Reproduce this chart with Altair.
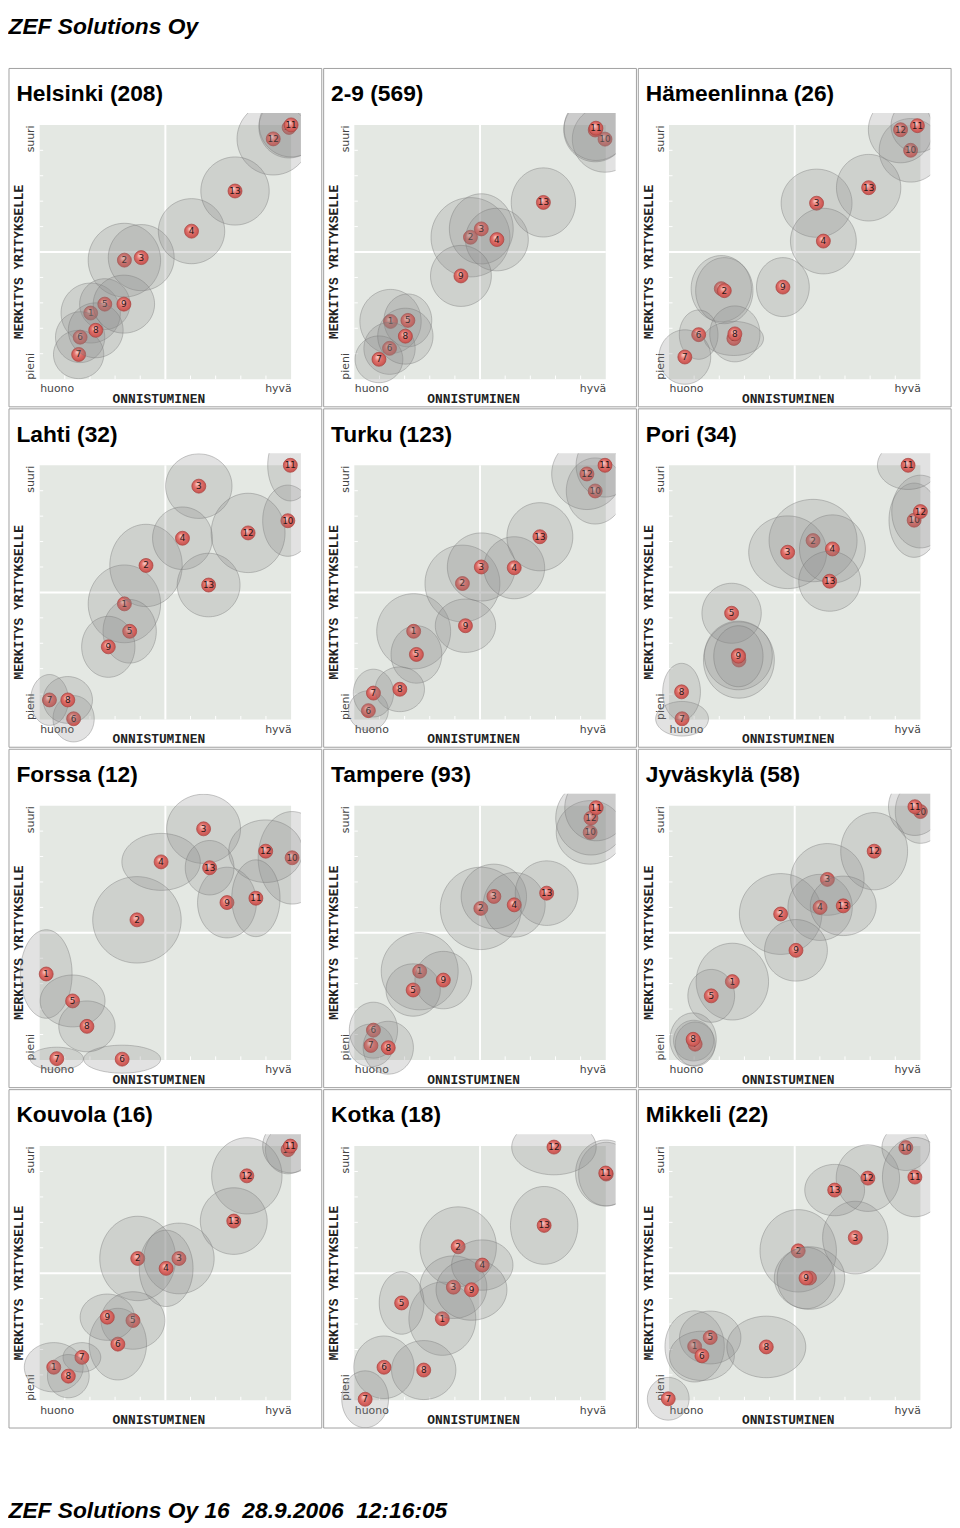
import altair as alt
import pandas as pd

PANEL_TITLES = ["Helsinki (208)", "2-9 (569)", "Hämeenlinna (26)",
                "Lahti (32)", "Turku (123)", "Pori (34)",
                "Forssa (12)", "Tampere (93)", "Jyväskylä (58)",
                "Kouvola (16)", "Kotka (18)", "Mikkeli (22)"]

# item numbers in drawing order (later items are drawn on top)
ITEM_IDS = [1, 2, 3, 4, 5, 6, 7, 8, 9, 10, 12, 13, 11]

# mean position (x = onnistuminen, y = merkitys) and spread (sx, sy), scale 0..10
HEL_X = [2.03, 3.37, 4.04, 6.04, 2.59, 1.61, 1.55, 2.23, 3.35, 9.92, 9.29, 7.77, 10.00]
HEL_Y = [2.60, 4.68, 4.78, 5.82, 2.95, 1.65, 0.97, 1.92, 2.95, 9.90, 9.45, 7.40, 10.00]
HEL_SX = [1.18, 1.44, 1.31, 1.32, 1.00, 0.98, 1.00, 1.09, 1.22, 1.20, 1.44, 1.36, 1.27]
HEL_SY = [1.18, 1.45, 1.30, 1.28, 1.00, 1.00, 0.95, 1.08, 1.14, 1.20, 1.42, 1.34, 1.26]

N29_X = [1.44, 4.62, 5.05, 5.67, 2.13, 1.40, 0.98, 2.03, 4.24, 9.97, 9.58, 7.52, 9.61]
N29_Y = [2.27, 5.58, 5.91, 5.49, 2.31, 1.21, 0.78, 1.69, 4.06, 9.44, 9.80, 6.95, 9.87]
N29_SX = [1.22, 1.57, 1.27, 1.25, 0.95, 1.02, 0.95, 1.10, 1.21, 1.30, 1.25, 1.28, 1.27]
N29_SY = [1.26, 1.56, 1.38, 1.23, 1.04, 1.02, 0.92, 1.10, 1.20, 1.30, 1.25, 1.36, 1.27]

HML_X = [2.08, 2.20, 5.87, 6.14, 2.58, 1.18, 0.63, 2.62, 4.53, 9.61, 9.21, 7.94, 9.88]
HML_Y = [3.56, 3.48, 6.92, 5.43, 1.60, 1.75, 0.87, 1.78, 3.62, 9.00, 9.81, 7.53, 9.97]
HML_SX = [1.20, 1.14, 1.41, 1.31, 1.18, 0.77, 1.03, 1.00, 1.05, 1.25, 1.28, 1.28, 1.05]
HML_SY = [1.30, 1.30, 1.34, 1.29, 0.67, 0.97, 1.07, 1.10, 1.16, 1.25, 1.30, 1.31, 1.05]

LAH_X = [3.37, 4.23, 6.33, 5.68, 3.58, 1.35, 0.39, 1.12, 2.73, 9.87, 8.29, 6.72, 9.97]
LAH_Y = [4.55, 6.06, 9.18, 7.13, 3.47, 0.03, 0.77, 0.77, 2.86, 7.82, 7.34, 5.29, 10.00]
LAH_SX = [1.44, 1.44, 1.32, 1.19, 1.06, 0.82, 0.75, 0.98, 1.06, 1.00, 1.47, 1.25, 0.90]
LAH_SY = [1.53, 1.62, 1.27, 1.23, 1.25, 0.91, 1.00, 0.92, 1.20, 1.40, 1.56, 1.25, 1.40]

TUR_X = [2.36, 4.30, 5.05, 6.36, 2.47, 0.56, 0.76, 1.81, 4.42, 9.58, 9.25, 7.38, 9.97]
TUR_Y = [3.47, 5.35, 6.00, 5.97, 2.56, 0.35, 1.04, 1.19, 3.69, 8.99, 9.66, 7.19, 10.00]
TUR_SX = [1.47, 1.49, 1.35, 1.21, 1.01, 0.79, 0.80, 0.98, 1.20, 1.15, 1.40, 1.31, 1.15]
TUR_SY = [1.48, 1.51, 1.34, 1.22, 1.13, 0.78, 0.94, 0.88, 1.05, 1.30, 1.40, 1.34, 1.25]

POR_X = [2.78, 5.73, 4.72, 6.50, 2.49, 2.76, 0.52, 0.50, 2.76, 9.75, 10.00, 6.39, 9.51]
POR_Y = [2.34, 7.04, 6.58, 6.71, 4.18, 2.52, 0.03, 1.09, 2.49, 7.84, 8.18, 5.44, 10.00]
POR_SX = [1.41, 1.75, 1.55, 1.31, 1.18, 1.35, 1.05, 0.75, 0.98, 1.00, 1.14, 1.23, 1.22]
POR_SY = [1.50, 1.62, 1.43, 1.34, 1.18, 1.35, 0.68, 1.12, 1.20, 1.46, 1.43, 1.18, 0.95]

FOR_X = [0.26, 3.87, 6.52, 4.83, 1.31, 3.28, 0.68, 1.88, 7.45, 10.04, 8.99, 6.76, 8.60]
FOR_Y = [3.38, 5.51, 9.09, 7.79, 2.32, 0.03, 0.05, 1.32, 6.19, 7.95, 8.21, 7.56, 6.36]
FOR_SX = [1.03, 1.76, 1.47, 1.56, 1.29, 1.53, 1.06, 1.12, 1.17, 1.35, 1.47, 0.97, 0.96]
FOR_SY = [1.74, 1.70, 1.36, 1.12, 1.02, 0.55, 0.45, 1.00, 1.39, 1.82, 1.23, 1.07, 1.51]

TAM_X = [2.60, 5.03, 5.55, 6.36, 2.34, 0.76, 0.66, 1.35, 3.54, 9.38, 9.41, 7.65, 9.62]
TAM_Y = [3.49, 5.96, 6.43, 6.10, 2.75, 1.17, 0.57, 0.48, 3.14, 8.95, 9.51, 6.56, 9.92]
TAM_SX = [1.53, 1.61, 1.30, 1.23, 1.08, 0.96, 0.89, 1.00, 1.13, 1.35, 1.40, 1.25, 1.25]
TAM_SY = [1.52, 1.62, 1.27, 1.27, 1.03, 1.10, 0.84, 1.04, 1.13, 1.25, 1.45, 1.27, 1.30]

JYV_X = [2.52, 4.44, 6.30, 6.01, 1.68, 0.98, 1.04, 0.96, 5.05, 10.00, 8.16, 6.93, 9.78]
JYV_Y = [3.08, 5.74, 7.10, 6.00, 2.52, 0.76, 0.62, 0.81, 4.31, 9.77, 8.21, 6.06, 9.96]
JYV_SX = [1.44, 1.64, 1.46, 1.28, 0.93, 0.80, 0.79, 0.92, 1.25, 1.00, 1.33, 1.31, 1.05]
JYV_SY = [1.51, 1.59, 1.41, 1.30, 1.04, 0.80, 0.87, 1.04, 1.21, 1.25, 1.52, 1.17, 1.13]

KOU_X = [0.56, 3.90, 5.54, 5.03, 3.71, 3.11, 1.68, 1.14, 2.69, 9.88, 8.24, 7.72, 9.97]
KOU_Y = [1.30, 5.58, 5.58, 5.19, 3.14, 2.21, 1.69, 0.95, 3.27, 9.86, 8.83, 7.05, 10.00]
KOU_SX = [1.17, 1.51, 1.40, 1.07, 1.27, 1.14, 0.75, 0.83, 1.08, 0.90, 1.40, 1.33, 1.10]
KOU_SY = [0.97, 1.66, 1.39, 1.50, 1.13, 1.41, 0.58, 0.85, 0.91, 0.95, 1.50, 1.31, 1.05]

KOT_X = [3.50, 4.13, 3.94, 5.09, 1.88, 1.18, 0.43, 2.76, 4.66, 10.02, 7.94, 7.55, 10.00]
KOT_Y = [3.21, 6.04, 4.45, 5.32, 3.83, 1.30, 0.04, 1.19, 4.35, 8.90, 9.96, 6.88, 8.94]
KOT_SX = [1.33, 1.52, 1.33, 1.22, 0.89, 1.20, 0.93, 1.28, 1.41, 1.10, 1.68, 1.34, 1.20]
KOT_SY = [1.44, 1.57, 1.23, 0.99, 1.23, 1.23, 1.12, 1.16, 1.20, 1.25, 1.09, 1.53, 1.30]

MIK_X = [1.02, 5.14, 7.41, 5.59, 1.64, 1.31, -0.03, 3.87, 5.45, 9.42, 7.91, 6.59, 9.78]
MIK_Y = [2.12, 5.88, 6.40, 4.81, 2.47, 1.75, 0.06, 2.10, 4.81, 9.94, 8.74, 8.27, 8.78]
MIK_SX = [1.18, 1.52, 1.30, 1.40, 1.22, 1.29, 0.83, 1.57, 1.15, 0.95, 1.26, 1.19, 1.29]
MIK_SY = [1.40, 1.62, 1.43, 1.23, 1.04, 0.97, 0.84, 1.21, 1.21, 0.90, 1.31, 1.01, 1.56]

PANEL_DATA = [
    (HEL_X, HEL_Y, HEL_SX, HEL_SY), (N29_X, N29_Y, N29_SX, N29_SY),
    (HML_X, HML_Y, HML_SX, HML_SY), (LAH_X, LAH_Y, LAH_SX, LAH_SY),
    (TUR_X, TUR_Y, TUR_SX, TUR_SY), (POR_X, POR_Y, POR_SX, POR_SY),
    (FOR_X, FOR_Y, FOR_SX, FOR_SY), (TAM_X, TAM_Y, TAM_SX, TAM_SY),
    (JYV_X, JYV_Y, JYV_SX, JYV_SY), (KOU_X, KOU_Y, KOU_SX, KOU_SY),
    (KOT_X, KOT_Y, KOT_SX, KOT_SY), (MIK_X, MIK_Y, MIK_SX, MIK_SY),
]

# axis / frame geometry in data units
X_DOMAIN = [-1.22, 10.39]
Y_DOMAIN = [-1.09, 10.47]
FIELD = [0, 10]
MID = 5
TICKS = [1, 2, 3, 4, 6, 7, 8, 9]
TICK_LEN = 0.14
FRAME_X = [-1.22, 11.22]
FRAME_Y = [-1.09, 12.22]
PLOT_W, PLOT_H = 295, 297

HEADER = "ZEF Solutions Oy"
FOOTER = "ZEF Solutions Oy 16\u00a0 28.9.2006\u00a0 12:16:05"

XS = alt.Scale(domain=X_DOMAIN, nice=False, zero=False)
YS = alt.Scale(domain=Y_DOMAIN, nice=False, zero=False)

XAX = alt.Axis(
    values=FIELD, labelExpr="datum.value < 5 ? 'huono' : 'hyvä'",
    labelAlign={"condition": {"test": "datum.value < 5", "value": "left"}, "value": "right"},
    labelFlush=False, labelOverlap=False, ticks=False, domain=False, grid=False,
    offset=-28, labelPadding=4, labelFont="DejaVu Sans", labelFontSize=11, labelColor="#444444",
    title="ONNISTUMINEN", titleFont="Liberation Mono", titleFontSize=13, titleFontWeight="bold",
    titleColor="#222222", titleX=151, titleY=19.5, titleBaseline="middle", titleAlign="center",
)
YAX = alt.Axis(
    values=FIELD, labelExpr="datum.value < 5 ? 'pieni' : 'suuri'", labelAngle=270,
    labelAlign={"condition": {"test": "datum.value < 5", "value": "left"}, "value": "right"},
    labelBaseline="bottom", labelFlush=False, labelOverlap=False, ticks=False, domain=False,
    grid=False, offset=-31, labelPadding=4, labelFont="DejaVu Sans", labelFontSize=11,
    labelColor="#444444",
    title="MERKITYS YRITYKSELLE", titleFont="Liberation Mono", titleFontSize=13,
    titleFontWeight="bold", titleColor="#222222", titleAngle=270, titleX=-21, titleY=150,
    titleBaseline="middle", titleAlign="center",
)

BALL_FILL = alt.RadialGradient(
    gradient="radial",
    stops=[alt.GradientStop(offset=0, color="#fbd6d2"),
           alt.GradientStop(offset=0.45, color="#e2716c"),
           alt.GradientStop(offset=1, color="#c24f4b")],
    x1=0.38, y1=0.32, r1=0, x2=0.5, y2=0.5, r2=0.55,
)


def X(f):
    return alt.X(f, type="quantitative", scale=XS, axis=XAX)


def Y(f):
    return alt.Y(f, type="quantitative", scale=YS, axis=YAX)


bg_df = pd.DataFrame({"x": [FIELD[0]], "x2": [FIELD[1]], "y": [FIELD[0]], "y2": [FIELD[1]]})
mid_df = pd.DataFrame({"x": [MID, FIELD[0]], "x2": [MID, FIELD[1]],
                       "y": [FIELD[0], MID], "y2": [FIELD[1], MID]})
tick_df = pd.DataFrame({
    "x": TICKS + [FIELD[0]] * len(TICKS),
    "x2": TICKS + [FIELD[0] + TICK_LEN] * len(TICKS),
    "y": [FIELD[0]] * len(TICKS) + TICKS,
    "y2": [FIELD[0] + TICK_LEN] * len(TICKS) + TICKS,
})
frame_df = pd.DataFrame({"x": [FRAME_X[0]], "x2": [FRAME_X[1]], "y": [FRAME_Y[0]], "y2": [FRAME_Y[1]]})


def panel(title, xs, ys, sxs, sys_):
    df = pd.DataFrame({"id": ITEM_IDS, "rank": list(range(len(ITEM_IDS))),
                       "x": xs, "y": ys, "sx": sxs, "sy": sys_})
    layers = [
        alt.Chart(bg_df).mark_rect(color="#e4e8e3").encode(
            x=X("x"), x2="x2", y=Y("y"), y2="y2"),
        alt.Chart(tick_df).mark_rule(color="white", strokeWidth=1).encode(
            x=X("x"), x2="x2", y=Y("y"), y2="y2"),
        alt.Chart(mid_df).mark_rule(color="white", strokeWidth=2).encode(
            x=X("x"), x2="x2", y=Y("y"), y2="y2"),
    ]
    base = alt.Chart(df)
    for k in range(len(ITEM_IDS)):
        one = base.transform_filter(alt.datum.rank == k)
        ell = one.transform_calculate(t="sequence(0, 49)").transform_flatten(
            ["t"]).transform_calculate(a="PI * datum.t / 48").transform_calculate(
            ex="datum.x + datum.sx * cos(datum.a)",
            eu="datum.y + datum.sy * sin(datum.a)",
            el="datum.y - datum.sy * sin(datum.a)",
        ).mark_area(orient="vertical", clip=True, fill="#8a8a8a", fillOpacity=0.25,
                    stroke="#777777", strokeOpacity=0.5, strokeWidth=0.8).encode(
            x=X("ex"), y=Y("eu"), y2="el")
        ball = one.mark_circle(size=200, fill=BALL_FILL, opacity=1, stroke="#a84340",
                               strokeWidth=0.7).encode(x=X("x"), y=Y("y"))
        lab = one.mark_text(font="DejaVu Sans", fontSize=9, color="#2a1616").encode(
            x=X("x"), y=Y("y"), text="id:N")
        layers += [ell, ball, lab]
    layers.append(
        alt.Chart(frame_df).mark_rect(fillOpacity=0, stroke="#a0a0a0", strokeWidth=1,
                                      clip=False).encode(
            x=X("x"), x2="x2", y=Y("y"), y2="y2"))
    return alt.layer(*layers).properties(
        width=PLOT_W, height=PLOT_H,
        title=alt.TitleParams(title, anchor="start", font="Liberation Sans", fontSize=23,
                              fontWeight="bold", color="black", offset=-56.5, dx=8,
                              baseline="alphabetic"),
    )


panels = [panel(t, *d) for t, d in zip(PANEL_TITLES, PANEL_DATA)]
grid = alt.concat(*panels, columns=3, spacing=0)
inner = alt.vconcat(grid, spacing=0).properties(
    title=alt.TitleParams(FOOTER, orient="bottom", anchor="start", font="Liberation Sans",
                          fontSize=23, fontWeight="bold", fontStyle="italic", color="black",
                          offset=72))
chart = alt.vconcat(inner, spacing=0).properties(
    padding=0,
    title=alt.TitleParams(HEADER, anchor="start", font="Liberation Sans", fontSize=23,
                          fontWeight="bold", fontStyle="italic", color="black", offset=29),
).configure_view(strokeWidth=0)

chart.save("out.html", embed_options={"renderer": "svg", "actions": False})
